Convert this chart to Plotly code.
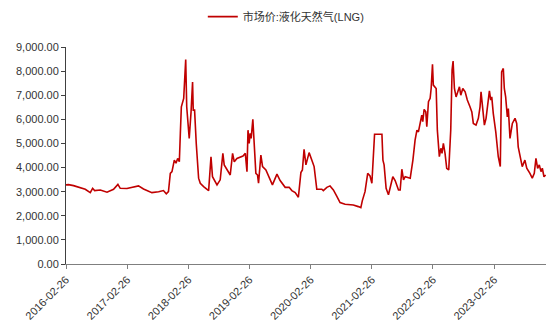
import plotly.graph_objects as go

# 市场价:液化天然气(LNG) — weekly market price, yuan/ton
dates = [
    "2016-02-26", "2016-03-12", "2016-04-11", "2016-05-11", "2016-06-20", "2016-07-20",
    "2016-08-03", "2016-08-15", "2016-09-18", "2016-10-28", "2016-12-06", "2017-01-01",
    "2017-01-15", "2017-02-24", "2017-03-26", "2017-05-04", "2017-06-03", "2017-07-23",
    "2017-09-01", "2017-09-30", "2017-10-17", "2017-10-30", "2017-11-10", "2017-11-20",
    "2017-12-04", "2017-12-14", "2017-12-24", "2018-01-03", "2018-01-09", "2018-01-15",
    "2018-01-29", "2018-02-04", "2018-02-10", "2018-02-16", "2018-02-24", "2018-03-03",
    "2018-03-14", "2018-03-23", "2018-03-27", "2018-04-04", "2018-04-14", "2018-04-28",
    "2018-05-08", "2018-05-28", "2018-06-27", "2018-07-11", "2018-07-20", "2018-08-06",
    "2018-08-16", "2018-09-04", "2018-09-15", "2018-09-20", "2018-09-28", "2018-10-14",
    "2018-11-03", "2018-11-17", "2018-11-27", "2018-12-13", "2019-01-02", "2019-01-18",
    "2019-02-01", "2019-02-11", "2019-02-17", "2019-02-24", "2019-03-02", "2019-03-08",
    "2019-03-18", "2019-03-26", "2019-04-05", "2019-04-15", "2019-04-21", "2019-05-05",
    "2019-05-15", "2019-06-04", "2019-06-24", "2019-07-13", "2019-08-09", "2019-08-28",
    "2019-09-27", "2019-10-21", "2019-11-06", "2019-11-26", "2019-12-15", "2019-12-30",
    "2020-01-08", "2020-01-18", "2020-01-29", "2020-02-17", "2020-03-04", "2020-03-18",
    "2020-04-03", "2020-05-03", "2020-05-12", "2020-06-02", "2020-06-21", "2020-07-11",
    "2020-07-31", "2020-08-20", "2020-09-19", "2020-11-07", "2020-12-07", "2020-12-22",
    "2020-12-31", "2021-01-16", "2021-02-01", "2021-02-15", "2021-02-26", "2021-03-14",
    "2021-04-27", "2021-05-03", "2021-05-10", "2021-05-22", "2021-06-05", "2021-06-15",
    "2021-07-01", "2021-07-15", "2021-08-04", "2021-08-14", "2021-08-24", "2021-09-03",
    "2021-09-13", "2021-10-13", "2021-10-29", "2021-11-11", "2021-11-22", "2021-12-01",
    "2021-12-11", "2021-12-21", "2021-12-27", "2022-01-04", "2022-01-14", "2022-01-20",
    "2022-01-30", "2022-02-09", "2022-02-15", "2022-02-23", "2022-02-28", "2022-03-11",
    "2022-03-17", "2022-03-24", "2022-04-05", "2022-04-14", "2022-04-21", "2022-04-29",
    "2022-05-09", "2022-05-19", "2022-05-31", "2022-06-12", "2022-06-20", "2022-06-26",
    "2022-07-04", "2022-07-14", "2022-07-24", "2022-08-03", "2022-08-11", "2022-08-23",
    "2022-09-06", "2022-09-19", "2022-10-05", "2022-10-16", "2022-10-25", "2022-11-10",
    "2022-11-24", "2022-12-04", "2022-12-10", "2022-12-18", "2022-12-30", "2023-01-09",
    "2023-01-19", "2023-01-29", "2023-02-06", "2023-02-12", "2023-02-21", "2023-03-08",
    "2023-03-23", "2023-04-04", "2023-04-12", "2023-04-22", "2023-04-28", "2023-05-06",
    "2023-05-16", "2023-05-22", "2023-06-01", "2023-06-15", "2023-07-01", "2023-07-11",
    "2023-07-20", "2023-07-31", "2023-08-13", "2023-08-29", "2023-09-09", "2023-09-28",
    "2023-10-12", "2023-10-24", "2023-11-03", "2023-11-13", "2023-11-23", "2023-12-03",
    "2023-12-11", "2023-12-21", "2023-12-31",
]

prices = [
    3280, 3290, 3250, 3180, 3100, 2960,
    3140, 3045, 3070, 2980, 3100, 3300,
    3140, 3130, 3180, 3240, 3110, 2960,
    3000, 3045, 2910, 3000, 3760, 3830,
    4310, 4180, 4380, 4240, 5420, 6520,
    6870, 7760, 8480, 6520, 5550, 5210,
    6310, 7550, 6380, 6380, 5000, 3560,
    3350, 3210, 3045, 4450, 3620, 3420,
    3280, 3490, 4240, 4590, 4110, 3900,
    3690, 4590, 4240, 4380, 4420, 4480,
    4590, 3830, 5550, 5000, 5420, 5210,
    6000, 5140, 3760, 3690, 3350, 4520,
    4040, 3900, 3560, 3280, 3730, 3460,
    3180, 3180, 3045, 2960, 2770, 3790,
    3900, 4760, 4110, 4620, 4310, 4040,
    3100, 3100, 3045, 3180, 3240, 3070,
    2820, 2550, 2480, 2450, 2380, 2340,
    2630, 3000, 3760, 3650, 3350, 5380,
    5380, 4310, 4110, 3140, 2870, 3210,
    3620, 3460, 3070, 3070, 3930, 3490,
    3620, 3560, 4310, 5140, 5550, 5480,
    5830, 6170, 5900, 6410, 6310, 5690,
    6730, 6870, 7280, 8280, 7420, 7350,
    7280, 5550, 4450, 4800, 4590, 5000,
    4590, 3970, 3900, 5550, 8040, 8420,
    7280, 6930, 7140, 7350, 7000, 7280,
    7140, 6800, 6520, 6310, 5830, 5760,
    6040, 6520, 7140, 6590, 5760, 6040,
    6660, 7180, 6800, 6930, 6250, 5480,
    4450, 4040, 7970, 8110, 7280, 6930,
    6100, 6450, 5210, 5830, 6040, 5830,
    4860, 4450, 4040, 4310, 3970, 3760,
    3560, 3760, 4380, 3970, 4110, 3830,
    3970, 3620, 3690,
]

x_tick_dates = ["2016-02-26", "2017-02-26", "2018-02-26", "2019-02-26",
                "2020-02-26", "2021-02-26", "2022-02-26", "2023-02-26"]
y_ticks = [0, 1000, 2000, 3000, 4000, 5000, 6000, 7000, 8000, 9000]

series_name = "市场价:液化天然气(LNG)"

fig = go.Figure()
fig.add_trace(go.Scatter(
    x=dates, y=prices, mode="lines", name=series_name,
    line=dict(color="#C00000", width=1.6),
))

fig.update_layout(
    width=546, height=329, autosize=False,
    margin=dict(l=66, r=0, t=47, b=65),
    paper_bgcolor="white", plot_bgcolor="white",
    font=dict(family="Liberation Sans, Arial, sans-serif", size=11, color="#333333"),
    showlegend=True,
    legend=dict(
        orientation="h", x=0.285, xanchor="left", y=1.14, yanchor="middle",
        font=dict(family="Liberation Sans, Noto Sans CJK SC, sans-serif", size=11, color="#333333"),
        bgcolor="rgba(0,0,0,0)", itemwidth=30,
    ),
)

fig.update_xaxes(
    type="date",
    range=["2016-02-26", "2024-01-02"],
    tickvals=x_tick_dates, ticktext=x_tick_dates,
    tickangle=-45,
    showgrid=False, zeroline=False,
    showline=True, linecolor="#7f7f7f", linewidth=1,
    ticks="outside", ticklen=4, tickcolor="#7f7f7f",
)

fig.update_yaxes(
    range=[0, 9000],
    tickvals=y_ticks, tickformat=",.2f",
    showgrid=False, zeroline=False,
    showline=True, linecolor="#404040", linewidth=1,
    ticks="outside", ticklen=4, tickcolor="#404040",
)

fig.write_html("out.html")
